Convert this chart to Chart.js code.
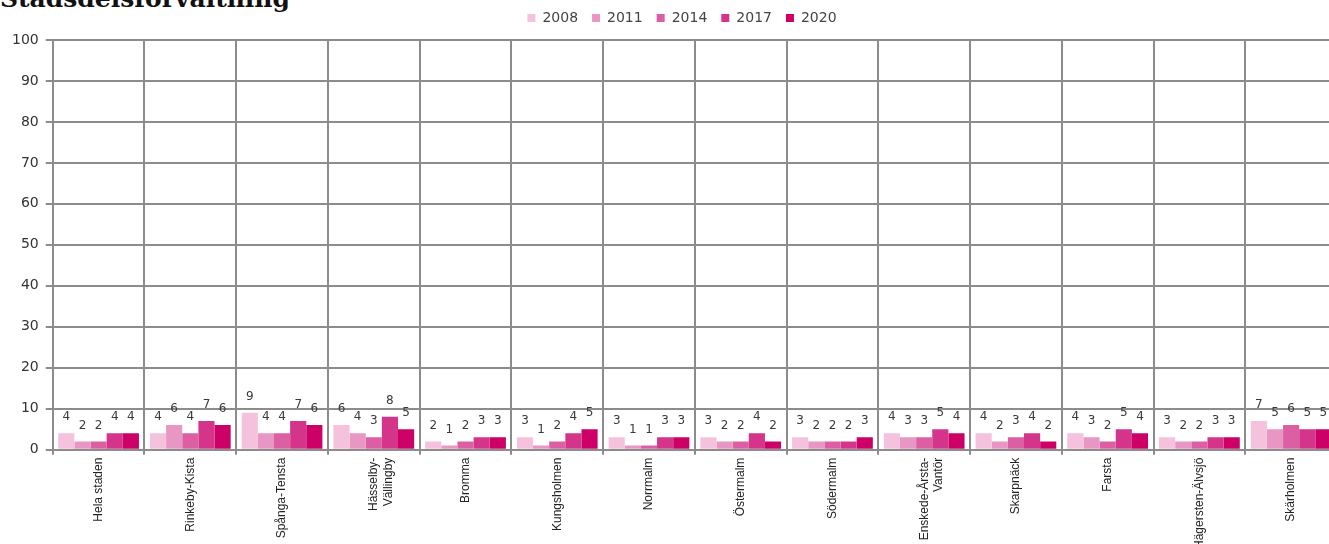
<!DOCTYPE html>
<html>
<head>
<meta charset="utf-8">
<script src="https://cdn.jsdelivr.net/npm/chart.js@4"></script>
<style>
  html, body { margin: 0; padding: 0; background: #fff; overflow: hidden; }
  #title {
    position: absolute; left: 0; top: -16px;
    font: bold 25px "DejaVu Serif", serif; color: #111;
    white-space: nowrap;
  }
  #wrap { position: absolute; left: 0; top: 0; width: 1337px; height: 544px; }
</style>
</head>
<body>
<div id="title">Stadsdelsförvaltning</div>
<div id="wrap"><canvas id="chart"></canvas></div>
<script>
// districts (x categories)
const districts = [
  'Hela staden', 'Rinkeby-Kista', 'Spånga-Tensta', ['Hässelby-', 'Vällingby'],
  'Bromma', 'Kungsholmen', 'Norrmalm', 'Östermalm', 'Södermalm',
  ['Enskede-Årsta-', 'Vantör'], 'Skarpnäck', 'Farsta', 'Hägersten-Älvsjö', 'Skärholmen'
];
const years = ['2008', '2011', '2014', '2017', '2020'];
const colors = ['#f4c2dc', '#e896c3', '#dd5fa3', '#d4348a', '#cc0066'];

// percent per district, one array per survey year
const v2008 = [4, 4, 9, 6, 2, 3, 3, 3, 3, 4, 4, 4, 3, 7];
const v2011 = [2, 6, 4, 4, 1, 1, 1, 2, 2, 3, 2, 3, 2, 5];
const v2014 = [2, 4, 4, 3, 2, 2, 1, 2, 2, 3, 3, 2, 2, 6];
const v2017 = [4, 7, 7, 8, 3, 4, 3, 4, 2, 5, 4, 5, 3, 5];
const v2020 = [4, 6, 6, 5, 3, 5, 3, 2, 3, 4, 2, 4, 3, 5];
const series = [v2008, v2011, v2014, v2017, v2020];

const yTicks = [0, 10, 20, 30, 40, 50, 60, 70, 80, 90, 100];
const FONT = '"DejaVu Sans", Verdana, sans-serif';

const valueLabels = {
  id: 'valueLabels',
  afterDatasetsDraw(chart) {
    const ctx = chart.ctx;
    ctx.save();
    ctx.font = '12px ' + FONT;
    ctx.fillStyle = '#3a3a3a';
    ctx.textAlign = 'center';
    ctx.textBaseline = 'bottom';
    chart.data.datasets.forEach((ds, i) => {
      chart.getDatasetMeta(i).data.forEach((bar, j) => {
        ctx.fillText(ds.data[j], bar.x, bar.y - 10);
      });
    });
    ctx.restore();
  }
};

// a bit more room under the legend, and nudge it right like the original
const legendTweak = {
  id: 'legendTweak',
  beforeInit(chart) {
    const lg = chart.legend;
    const fit = lg.fit;
    lg.fit = function () {
      fit.call(lg);
      this.height += 5;
    };
    const draw = lg.draw;
    lg.draw = function () {
      const ctx = chart.ctx;
      ctx.save();
      ctx.translate(11, 0);
      draw.call(lg);
      ctx.restore();
    };
  }
};

new Chart(document.getElementById('chart'), {
  type: 'bar',
  data: {
    labels: districts,
    datasets: years.map((y, i) => ({
      label: y,
      data: series[i],
      backgroundColor: colors[i],
      borderWidth: 0,
      categoryPercentage: 0.88,
      barPercentage: 1.0
    }))
  },
  options: {
    responsive: true,
    maintainAspectRatio: false,
    animation: false,
    layout: { padding: { left: 5, right: 0, top: -3, bottom: -8 } },
    plugins: {
      legend: {
        position: 'top',
        labels: {
          boxWidth: 8, boxHeight: 8, padding: 14,
          color: '#444',
          font: { family: FONT, size: 14 }
        }
      },
      tooltip: { enabled: false }
    },
    scales: {
      y: {
        min: 0, max: 100,
        afterBuildTicks: (axis) => { axis.ticks = yTicks.map(v => ({ value: v })); },
        grid: { color: '#8c8c8c', lineWidth: 2, tickLength: 7 },
        border: { color: '#8c8c8c', width: 2 },
        ticks: {
          color: '#333', padding: 7,
          font: { family: FONT, size: 14 }
        }
      },
      x: {
        grid: { color: '#8c8c8c', lineWidth: 2, offset: true, tickLength: 5 },
        border: { color: '#8c8c8c', width: 2 },
        ticks: {
          color: '#222', maxRotation: 90, minRotation: 90, autoSkip: false,
          font: { family: '"Liberation Sans Narrow", "Liberation Sans", Arial, sans-serif', size: 12 }
        }
      }
    }
  },
  plugins: [valueLabels, legendTweak]
});
</script>
</body>
</html>
